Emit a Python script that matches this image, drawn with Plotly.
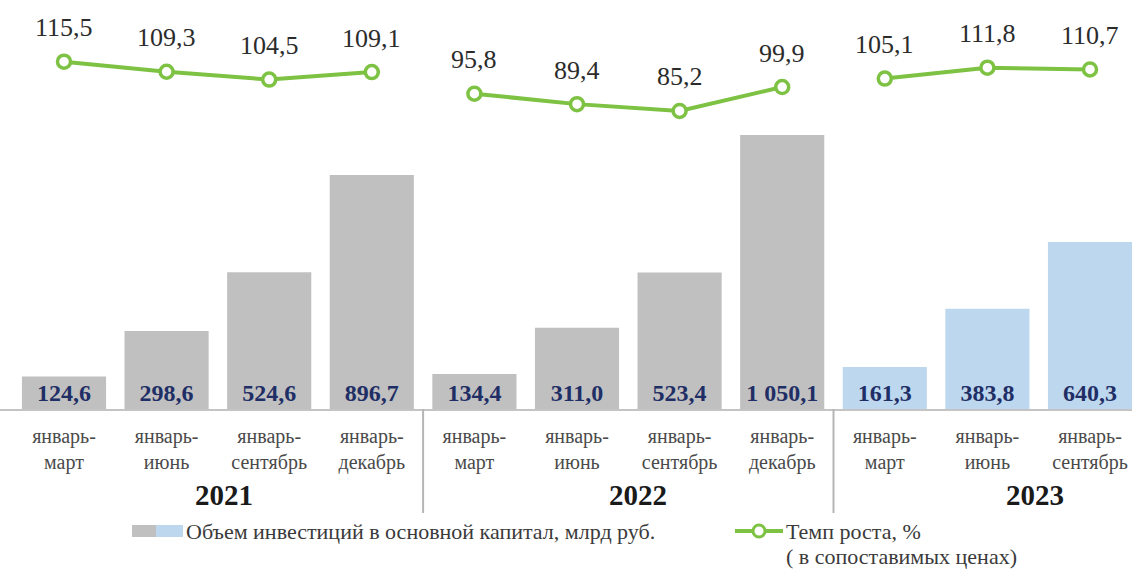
import plotly.graph_objects as go

# Quarterly cumulative periods, grouped by year
periods = ["январь-<br>март", "январь-<br>июнь", "январь-<br>сентябрь", "январь-<br>декабрь",
           "январь-<br>март", "январь-<br>июнь", "январь-<br>сентябрь", "январь-<br>декабрь",
           "январь-<br>март", "январь-<br>июнь", "январь-<br>сентябрь"]
years = ["2021", "2022", "2023"]
year_sizes = [4, 4, 3]

# Investment in fixed capital, bn rub
investment = [124.6, 298.6, 524.6, 896.7, 134.4, 311.0, 523.4, 1050.1, 161.3, 383.8, 640.3]
investment_labels = ["124,6", "298,6", "524,6", "896,7", "134,4", "311,0", "523,4", "1 050,1",
                     "161,3", "383,8", "640,3"]

# Growth rate, % (comparable prices)
growth = [115.5, 109.3, 104.5, 109.1, 95.8, 89.4, 85.2, 99.9, 105.1, 111.8, 110.7]
growth_labels = ["115,5", "109,3", "104,5", "109,1", "95,8", "89,4", "85,2", "99,9",
                 "105,1", "111,8", "110,7"]

GRAY = "#c0c0c0"
BLUE = "#bdd7ee"
GREEN = "#7dc242"
NAVY = "#1f2f66"
SERIF = "Liberation Serif, Times New Roman, serif"

W, H = 1132, 570


def px_y(p):
    return (H - p) / H


xs = list(range(len(periods)))
bar_colors = []
year_of = []
for yi, n in enumerate(year_sizes):
    for _ in range(n):
        year_of.append(yi)
        bar_colors.append(BLUE if years[yi] == "2023" else GRAY)

fig = go.Figure()

fig.add_trace(go.Bar(
    x=xs, y=investment, width=0.82,
    marker=dict(color=bar_colors, line=dict(width=0)),
    text=investment_labels, textposition="inside", insidetextanchor="start",
    constraintext="none",
    textfont=dict(family=SERIF, size=24, color=NAVY, weight="bold"),
    hoverinfo="skip", showlegend=False,
))

# Growth line: separate segment per year
line_x, line_y = [], []
for i, v in enumerate(growth):
    if i > 0 and year_of[i] != year_of[i - 1]:
        line_x.append(None)
        line_y.append(None)
    line_x.append(i)
    line_y.append(v)

fig.add_trace(go.Scatter(
    x=line_x, y=line_y, yaxis="y2", mode="lines+markers",
    line=dict(color=GREEN, width=4),
    marker=dict(symbol="circle", size=13, color="white", line=dict(color=GREEN, width=3.5)),
    hoverinfo="skip", showlegend=False,
))

annotations = []
for i, v in enumerate(growth):
    annotations.append(dict(
        x=i, y=v, xref="x", yref="y2", text=growth_labels[i], showarrow=False,
        yshift=34, font=dict(family=SERIF, size=26, color="#2b2b2b"),
    ))

# Year captions
year_pos = {"2021": 1.56, "2022": 5.59, "2023": 9.46}
for yi, n in enumerate(year_sizes):
    annotations.append(dict(
        x=year_pos[years[yi]], y=px_y(495), xref="x", yref="paper", yanchor="middle",
        text="<b>" + years[yi] + "</b>", showarrow=False,
        font=dict(family=SERIF, size=29, color="#1a1a1a"),
    ))

shapes = []
# Year separators
acc = 0
for n in year_sizes[:-1]:
    acc += n
    shapes.append(dict(type="line", xref="x", yref="paper",
                       x0=acc - 0.5, x1=acc - 0.5,
                       y0=px_y(409), y1=px_y(513),
                       line=dict(color="#b5b5b5", width=2)))

# Legend
leg_y = px_y(531)
LEG_FONT = dict(family=SERIF, size=22, color="#3a3a3a")
shapes.append(dict(type="rect", xref="paper", yref="paper",
                   x0=132 / W, x1=156 / W, y0=px_y(537), y1=px_y(525),
                   fillcolor=GRAY, line=dict(width=0)))
shapes.append(dict(type="rect", xref="paper", yref="paper",
                   x0=156 / W, x1=183 / W, y0=px_y(537), y1=px_y(525),
                   fillcolor=BLUE, line=dict(width=0)))
annotations.append(dict(x=184 / W, y=leg_y, xref="paper", yref="paper",
                        xanchor="left", yanchor="middle",
                        text="Объем инвестиций в основной капитал, млрд руб.", showarrow=False,
                        font=LEG_FONT))
shapes.append(dict(type="line", xref="paper", yref="paper",
                   x0=735 / W, x1=783 / W, y0=leg_y, y1=leg_y,
                   line=dict(color=GREEN, width=4)))
shapes.append(dict(type="circle", xref="paper", yref="paper",
                   x0=753 / W, x1=765 / W, y0=px_y(537), y1=px_y(525),
                   fillcolor="white", line=dict(color=GREEN, width=3)))
annotations.append(dict(x=784 / W, y=leg_y, xref="paper", yref="paper",
                        xanchor="left", yanchor="middle",
                        text="Темп роста, %", showarrow=False, font=LEG_FONT))
annotations.append(dict(x=784 / W, y=px_y(556), xref="paper", yref="paper",
                        xanchor="left", yanchor="middle",
                        text="( в сопоставимых ценах)", showarrow=False, font=LEG_FONT))

base = px_y(409)
fig.update_layout(
    width=W, height=H,
    margin=dict(l=0, r=0, t=0, b=0),
    paper_bgcolor="white", plot_bgcolor="white",
    xaxis=dict(
        range=[-64 / 102.6, -64 / 102.6 + W / 102.6],
        tickmode="array", tickvals=xs, ticktext=periods,
        tickfont=dict(family=SERIF, size=20, color="#4a4a4a"),
        ticks="outside", ticklen=8, tickcolor="rgba(0,0,0,0)",
        showline=True, linecolor="#c4c4c4", linewidth=2,
        showgrid=False, zeroline=False, fixedrange=True,
    ),
    yaxis=dict(domain=[base, 1], range=[0, 409 / 0.2609], visible=False, fixedrange=True),
    yaxis2=dict(domain=[base, 1], range=[153.4 - 409 / 1.627, 153.4], overlaying="y",
                visible=False, fixedrange=True),
    annotations=annotations,
    shapes=shapes,
)

fig.write_html("out.html")
